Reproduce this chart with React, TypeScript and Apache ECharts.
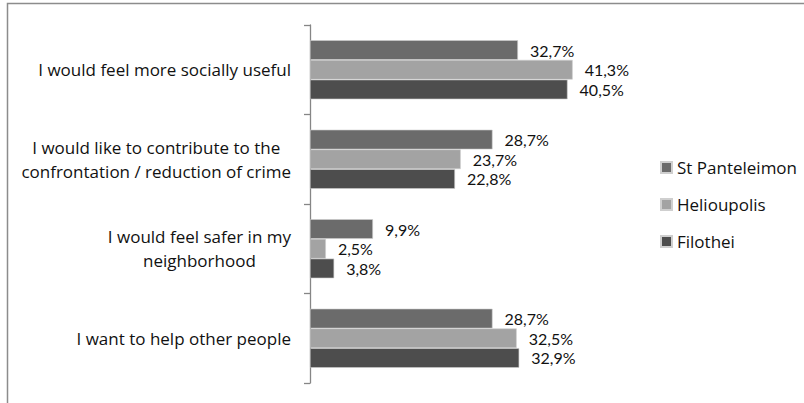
import React, { useEffect, useRef } from "react";
import * as echarts from "echarts";

const categories = [
  "I would feel more socially useful",
  "I would like to contribute to the\nconfrontation / reduction of crime",
  "I would feel safer in my\nneighborhood",
  "I want to help other people",
];
const seriesNames = ["St Panteleimon", "Helioupolis", "Filothei"];
const stPanteleimon = [32.7, 28.7, 9.9, 28.7];
const helioupolis = [41.3, 23.7, 2.5, 32.5];
const filothei = [40.5, 22.8, 3.8, 32.9];
const colors = ["#6b6b6b", "#a3a3a3", "#4d4d4d"];

const FONT = "'Open Sans', Lato, sans-serif";
const LABEL_FONT = "Lato, 'Open Sans', sans-serif";

export default function App() {
  const ref = useRef<HTMLDivElement>(null);
  useEffect(() => {
    if (!ref.current) return;
    const chart = echarts.init(ref.current, null, { renderer: "svg" });
    const data = [stPanteleimon, helioupolis, filothei];
    chart.setOption({
      animation: false,
      backgroundColor: "#ffffff",
      textStyle: { fontFamily: FONT },
      grid: { left: 310, top: 25, width: 318, height: 358, containLabel: false },
      xAxis: {
        type: "value",
        min: 0,
        max: 50,
        show: false,
      },
      yAxis: {
        type: "category",
        inverse: true,
        data: categories,
        axisLine: { show: true, lineStyle: { color: "#868686", width: 1.3 } },
        axisTick: { show: true, length: 6, lineStyle: { color: "#868686", width: 1.3 } },
        splitLine: { show: false },
        axisLabel: {
          margin: 19,
          color: "#111",
          fontSize: 17,
          fontFamily: FONT,
          formatter: (v: string) =>
            v.split("\n").map((l) => `{c|${l}}`).join("\n"),
          rich: {
            c: { align: "center", fontSize: 17, fontFamily: FONT, color: "#111", lineHeight: 24 },
          },
        },
      },
      legend: {
        orient: "vertical",
        left: 660,
        top: 159,
        padding: 0,
        itemWidth: 11,
        itemHeight: 11,
        itemGap: 20,
        icon: "rect",
        textStyle: { fontSize: 17, fontFamily: FONT, color: "#111", lineHeight: 16, padding: [0, 0, 0, 0] },
        data: seriesNames,
      },
      graphic: [
        {
          type: "rect",
          shape: { x: 7.5, y: 3.5, width: 900, height: 500 },
          style: { fill: "none", stroke: "#8c8c8c", lineWidth: 1.5 },
          silent: true,
        },
      ],
      series: seriesNames.map((name, i) => ({
        name,
        type: "bar",
        data: data[i],
        barGap: "0%",
        barCategoryGap: "34%",
        itemStyle: { color: colors[i], borderColor: "#cfcfcf", borderWidth: 0.6 },
        label: {
          show: true,
          position: "right",
          distance: 12,
          fontSize: 16,
          lineHeight: 16,
          fontFamily: LABEL_FONT,
          color: "#111",
          formatter: (p: any) => `${p.value.toFixed(1).replace(".", ",")}%`,
        },
      })),
    });
    return () => chart.dispose();
  }, []);
  return (
    <div
      ref={ref}
      style={{ position: "fixed", left: 0, top: 0, width: 804, height: 403 }}
    />
  );
}
